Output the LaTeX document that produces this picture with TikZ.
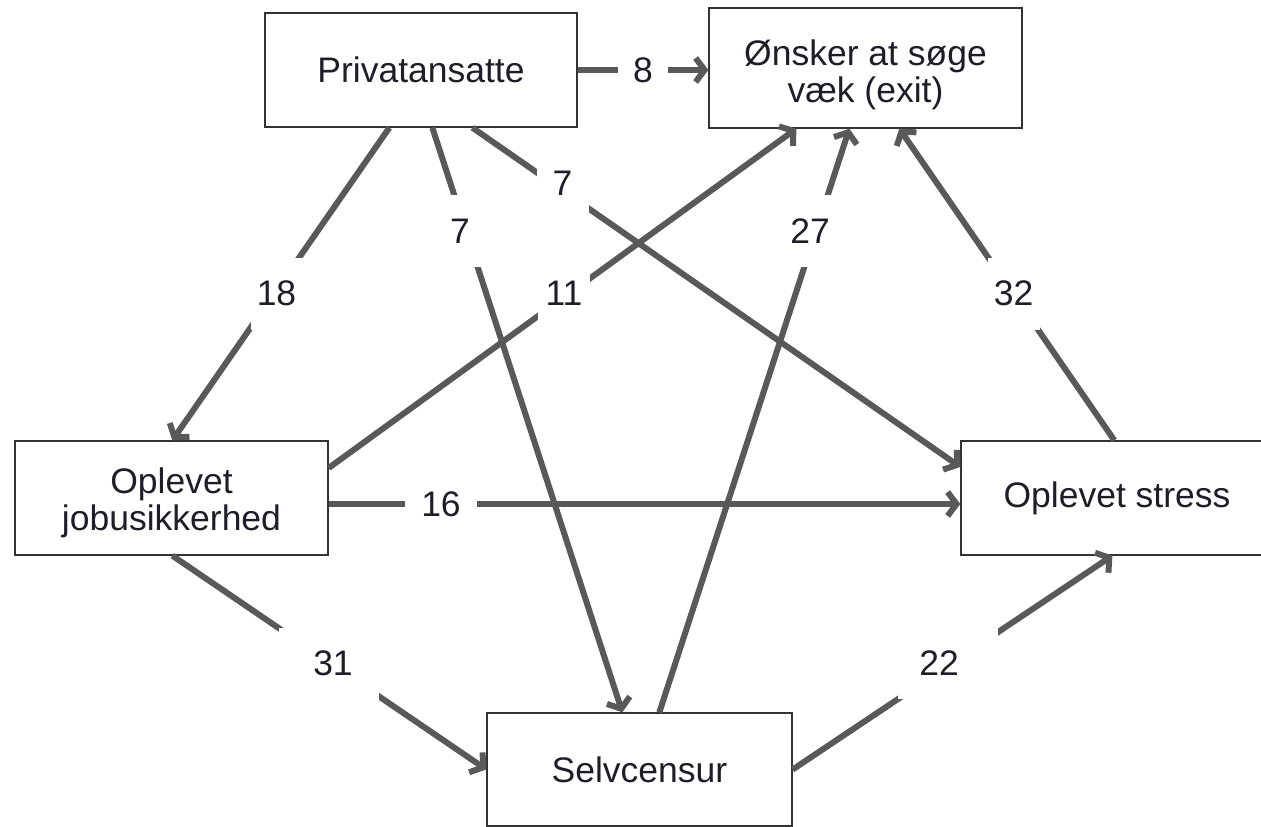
\documentclass[tikz,border=0pt]{standalone}
\usepackage{fontspec}
\setmainfont{Liberation Sans}
\usetikzlibrary{arrows.meta,calc}
\definecolor{arr}{HTML}{595959}
\definecolor{bord}{HTML}{333333}
\definecolor{txt}{HTML}{1E1E28}
\begin{document}
\begin{tikzpicture}[x=1pt,y=-1pt,
  box/.style={draw=bord, line width=1.3pt, fill=white, inner sep=0pt},
  boxtext/.style={align=center, text=txt, font=\fontsize{35.5}{37}\selectfont, inner sep=0pt},
  con/.style={draw=arr, line width=6pt, -{Straight Barb[length=9pt,width=24pt]}},
  lbl/.style={fill=white, inner sep=0pt, minimum width=52pt, minimum height=72pt,
    text=txt, font=\fontsize{35.5}{37}\selectfont}]
\clip (0,0) rectangle (1261,827);
\fill[white] (0,0) rectangle (1261,827);
% boxes
\node[box, minimum width=312pt, minimum height=114pt] (P) at (421,70) {};
\node[box, minimum width=313pt, minimum height=120pt] (E) at (865.5,68) {};
\node[box, minimum width=313pt, minimum height=114pt] (J) at (171.5,498) {};
\node[box, minimum width=312pt, minimum height=114pt] (S) at (1117,498) {};
\node[box, minimum width=305pt, minimum height=113pt] (C) at (639.5,769.5) {};
% box texts
\node[boxtext] (Pt) at (P.center) {Privatansatte};
\node[boxtext] (Et) at ($(E.center)+(0,7)$) {Ønsker at søge\\væk (exit)};
\node[boxtext] (Jt) at ($(J.center)+(0,5)$) {Oplevet\\jobusikkerhed};
\node[boxtext] (St) at (S.center) {Oplevet stress};
\node[boxtext] (Ct) at (C.center) {Selvcensur};
% connectors
\draw[con] (P.east) -- ($(E.west)+(0,2)$);
\draw[con] ($(P.south west)+(125,0)$) -- ($(J.north west)+(158,0)$);
\draw[con] ($(P.south west)+(168,0)$) -- ($(C.north west)+(136,0)$);
\draw[con] ($(P.south west)+(208,0)$) -- ($(S.west)+(0,-31)$);
\draw[con] ($(J.east)+(0,-30)$) -- ($(E.south west)+(88,0)$);
\draw[con] ($(J.east)+(0,6)$) -- ($(S.west)+(0,6)$);
\draw[con] ($(J.south west)+(158,0)$) -- (C.west);
\draw[con] ($(C.north west)+(173,0)$) -- ($(E.south west)+(141,0)$);
\draw[con] ($(S.north west)+(154,0)$) -- ($(E.south west)+(191,0)$);
\draw[con] (C.east) -- ($(S.south west)+(152,0)$);
% labels
\node[lbl, minimum width=50pt] (l8) at (643,70) {8};
\node[lbl] (l18) at (276.5,293.5) {18};
\node[lbl] (l7a) at (467,231) {\hspace*{-14pt}7};
\node[lbl] (l7b) at (562.5,188.5) {\raisebox{10pt}{7}};
\node[lbl] (l11) at (564,300.5) {\raisebox{14pt}{11}};
\node[lbl] (l27) at (817.5,231) {\hspace*{-15pt}27};
\node[lbl] (l32) at (1013.5,293.5) {32};
\node[lbl, minimum width=100pt] (l31) at (328.5,663.5) {\hspace*{9pt}31};
\node[lbl, minimum width=100pt] (l22) at (947.5,663) {\hspace*{-17pt}22};
\node[lbl, minimum width=72pt] (l16) at (441,504) {16};
\end{tikzpicture}
\end{document}
